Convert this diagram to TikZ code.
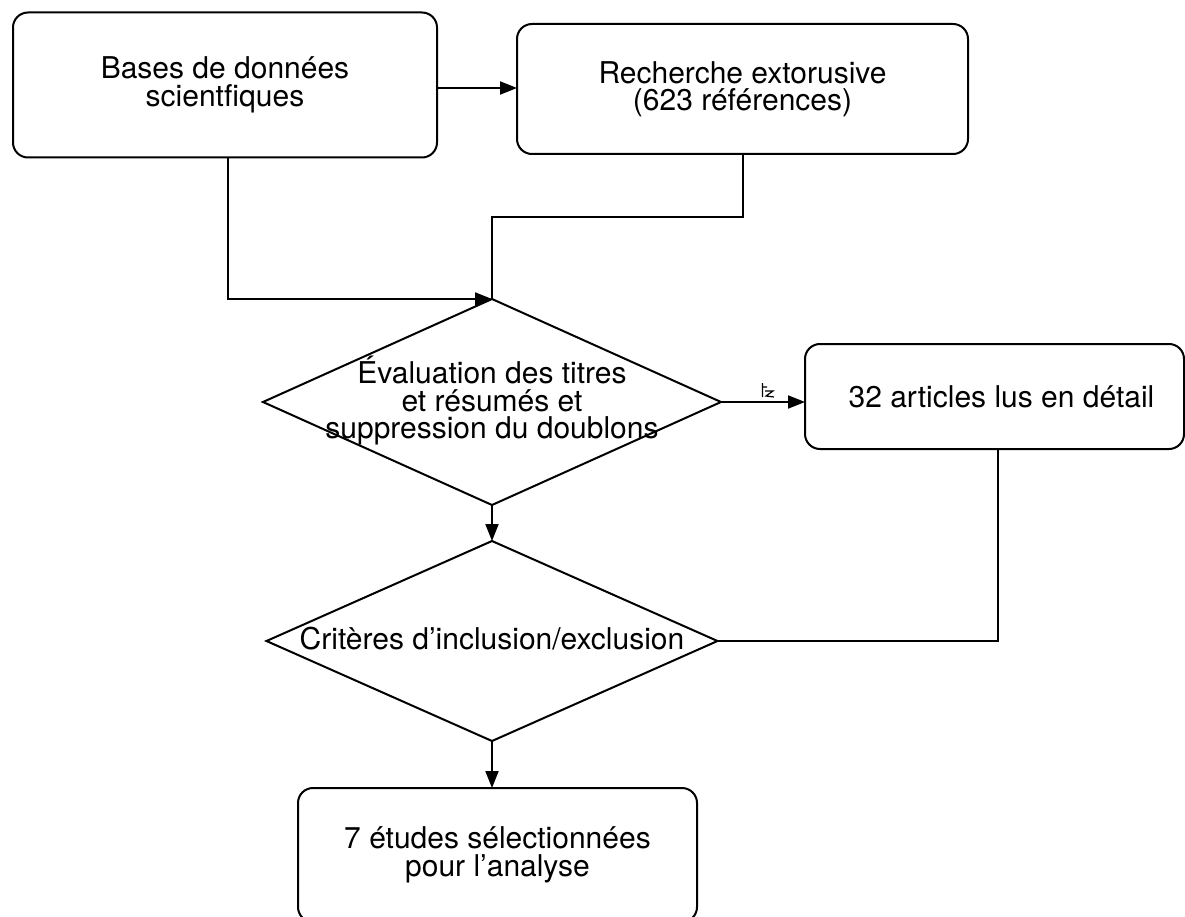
\documentclass[tikz,border=0pt]{standalone}
\usepackage{fontspec}
\setmainfont{TeX Gyre Heros}
\usetikzlibrary{shapes.geometric,arrows.meta}
\begin{document}
\begin{tikzpicture}[x=1pt,y=-1pt,
  txt/.style={font=\fontsize{30}{27.5}\selectfont, align=center},
  rbox/.style={txt, draw, line width=2pt, rounded corners=15pt, inner sep=0pt, outer sep=0pt},
  dshape/.style={draw, diamond, line width=2pt, inner sep=0pt, outer sep=0pt},
  conn/.style={line width=2pt},
  arr/.style={conn, -{Triangle[length=17pt,width=13pt]}}]
\useasboundingbox[fill=white] (0,0) rectangle (1185,917);
\node[rbox, minimum width=424pt, minimum height=145pt] (b1) at (225,85) {Bases de données\\scientfiques};
\node[rbox, minimum width=451pt, minimum height=130pt] (b2) at (742.5,89) {Recherche extorusive\\(623 références)};
\node[dshape, minimum width=458pt, minimum height=206pt] (d1) at (492,402) {};
\node[txt] (t1) at (492,401) {Évaluation des titres\\et résumés et\\suppression du doublons};
\node[rbox, minimum width=379pt, minimum height=105pt] (b3) at (994.5,396.5) {\hspace*{14pt}32 articles lus en détail};
\node[dshape, minimum width=451pt, minimum height=200pt] (d2) at (492,641) {};
\node[txt] (t2) at (492,639) {Critères d’inclusion/exclusion};
\node[rbox, minimum width=399pt, minimum height=134pt] (b4) at (497.5,855) {7 études sélectionnées\\pour l’analyse};
\draw[arr] (b1.east |- 0,88) -- (b2.west |- 0,88);
\draw[arr] ([xshift=3pt]b1.south) |- (d1.north);
\draw[conn] (b2.south) -- ++(0,63) -| (d1.north);
\draw[arr] (d1.east) -- (d1.east -| b3.west);
\draw[arr] (d1.south) -- (d2.north);
\draw[conn] (d2.east) -| ([xshift=3.5pt]b3.south);
\draw[arr] (d2.south) -- (d2.south |- b4.north);
% small stray mark above the arrow
\draw[line width=1.2pt] (762.5,383) -- (762.5,397) (762.5,387) -- (767,387)
  (765,391) -- (773,391) -- (766,396) -- (774,397);
\end{tikzpicture}
\end{document}
